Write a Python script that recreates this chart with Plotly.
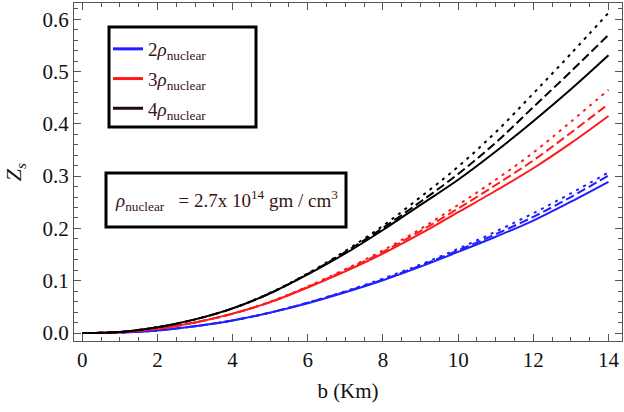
import plotly.graph_objects as go

b = list(range(0, 15))

black_solid = [0, 0.002, 0.011, 0.026, 0.047, 0.076, 0.112, 0.152, 0.197, 0.245, 0.293, 0.347, 0.405, 0.466, 0.531]
black_dash = [0, 0.002, 0.011, 0.026, 0.047, 0.076, 0.113, 0.155, 0.201, 0.251, 0.304, 0.364, 0.432, 0.500, 0.570]
black_dot = [0, 0.002, 0.011, 0.026, 0.047, 0.077, 0.114, 0.157, 0.205, 0.260, 0.318, 0.384, 0.458, 0.534, 0.612]

red_solid = [0, 0.0015, 0.008, 0.020, 0.037, 0.059, 0.087, 0.118, 0.152, 0.190, 0.231, 0.272, 0.315, 0.363, 0.415]
red_dash = [0, 0.0015, 0.008, 0.020, 0.037, 0.059, 0.088, 0.120, 0.155, 0.195, 0.238, 0.283, 0.330, 0.383, 0.438]
red_dot = [0, 0.0015, 0.008, 0.020, 0.037, 0.060, 0.089, 0.122, 0.158, 0.199, 0.245, 0.293, 0.345, 0.404, 0.465]

blue_solid = [0, 0.001, 0.005, 0.013, 0.024, 0.039, 0.057, 0.078, 0.101, 0.127, 0.155, 0.184, 0.215, 0.251, 0.289]
blue_dash = [0, 0.001, 0.005, 0.013, 0.024, 0.039, 0.058, 0.079, 0.102, 0.129, 0.158, 0.189, 0.222, 0.260, 0.301]
blue_dot = [0, 0.001, 0.005, 0.013, 0.024, 0.039, 0.058, 0.080, 0.104, 0.131, 0.161, 0.194, 0.229, 0.267, 0.307]

legend_names = ["2<i>ρ</i><sub>nuclear</sub>", "3<i>ρ</i><sub>nuclear</sub>", "4<i>ρ</i><sub>nuclear</sub>"]

FONT = "Times New Roman"
TXT = "#3a1414"
DOT = "3px,5px"
DASH = "9px,4px"

fig = go.Figure()

groups = [
    ("#1f1fff", blue_solid, blue_dash, blue_dot, legend_names[0], "#1f1fff"),
    ("#ff1a1a", red_solid, red_dash, red_dot, legend_names[1], "#ff1a1a"),
    ("#000000", black_solid, black_dash, black_dot, legend_names[2], "#2a0808"),
]

for color, s, d, o, name, lcol in groups:
    fig.add_trace(go.Scatter(x=b, y=o, mode="lines", line=dict(color=color, width=2, dash=DOT, shape="spline"), showlegend=False))
    fig.add_trace(go.Scatter(x=b, y=d, mode="lines", line=dict(color=color, width=2, dash=DASH, shape="spline"), showlegend=False))
    fig.add_trace(go.Scatter(x=b, y=s, mode="lines", line=dict(color=color, width=2, shape="spline"), showlegend=False))
    fig.add_trace(go.Scatter(x=[None], y=[None], mode="lines", line=dict(color=lcol, width=3), name=name,
                             showlegend=True, legendgroup=name))

axis_common = dict(
    showgrid=False, zeroline=False, showline=True, linecolor="#555555", linewidth=1,
    mirror="ticks", ticks="inside", ticklen=7, tickcolor="#555555", tickwidth=1,
    tickfont=dict(family=FONT, size=21, color="#111111"),
)

fig.update_xaxes(
    range=[-0.22, 14.36], tick0=0, dtick=2,
    minor=dict(dtick=0.5, ticks="inside", ticklen=4, tickcolor="#555555"),
    title=dict(text="b (Km)", font=dict(family=FONT, size=21, color="#111111"), standoff=12),
    **axis_common,
)
fig.update_yaxes(
    range=[-0.0153, 0.631], tick0=0, dtick=0.1, tickformat=".1f",
    minor=dict(dtick=0.02, ticks="inside", ticklen=4, tickcolor="#555555"),
    title=dict(text="<i>Z<sub>s</sub></i>", font=dict(family=FONT, size=22, color="#111111"), standoff=14),
    **axis_common,
)

fig.add_shape(type="rect", xref="paper", yref="paper",
              x0=(109 - 74) / 548, x1=(256 - 74) / 548, y0=(341 - 127) / 338, y1=(341 - 27) / 338,
              line=dict(color="black", width=3), fillcolor="white", layer="below")
fig.add_shape(type="rect", xref="paper", yref="paper",
              x0=(106 - 74) / 548, x1=(346 - 74) / 548, y0=(341 - 227) / 338, y1=(341 - 173) / 338,
              line=dict(color="black", width=3), fillcolor="white", layer="below")

fig.add_annotation(xref="paper", yref="paper", x=(226 - 74) / 548, y=(341 - 200) / 338,
                   xanchor="center", yanchor="middle",
                   text="<i>ρ</i><sub>nuclear</sub>   = 2.7x 10<sup>14</sup> gm / cm<sup>3</sup>",
                   showarrow=False, font=dict(family=FONT, size=19, color=TXT))

fig.update_layout(
    width=624, height=412,
    margin=dict(l=74, r=2, t=3, b=71),
    paper_bgcolor="white", plot_bgcolor="white",
    font=dict(family=FONT),
    legend=dict(x=(108 - 74) / 548, y=(341 - 30) / 338, xanchor="left", yanchor="top",
                bgcolor="rgba(0,0,0,0)", borderwidth=0, traceorder="grouped", tracegroupgap=2,
                itemwidth=30, font=dict(family=FONT, size=19, color=TXT)),
)

fig.write_html("out.html")
